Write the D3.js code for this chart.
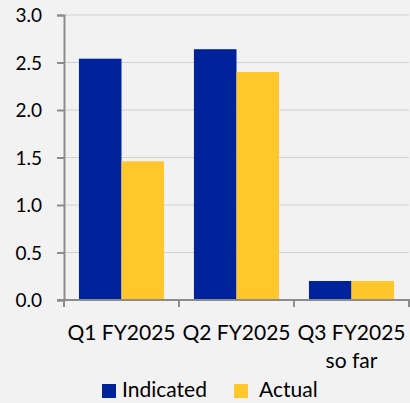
<!DOCTYPE html>
<html>
<head>
<meta charset="utf-8">
<script src="https://cdn.jsdelivr.net/npm/d3@7"></script>
<style>
  body { margin: 0; background: #f2f2f2; }
  svg { display: block; font-family: Lato, "Open Sans", sans-serif; }
</style>
</head>
<body>
<div id="chart"></div>
<script>
// values
const categories = ["Q1 FY2025", "Q2 FY2025", "Q3 FY2025\nso far"];
const seriesNames = ["Indicated", "Actual"];
const indicated = [2.54, 2.64, 0.2];
const actual = [1.46, 2.4, 0.2];
const yTicks = [0, 0.5, 1.0, 1.5, 2.0, 2.5, 3.0];

const colors = { Indicated: "#00239c", Actual: "#ffc72c" };
const fontSize = 21;

const width = 410, height = 403;
const margin = { top: 15, right: 1, bottom: 103, left: 64 };

const svg = d3.select('#chart')
    .append('svg')
    .attr('width', width)
    .attr('height', height)
;

svg.append('rect')
    .attr('width', width)
    .attr('height', height)
    .attr('fill', '#f2f2f2')
;

const x = d3.scaleBand()
    .domain(categories)
    .range([margin.left, width - margin.right])
    .paddingInner(0.26)
    .paddingOuter(0.13)
;

const x1 = d3.scaleBand()
    .domain(seriesNames)
    .range([0, x.bandwidth()])
;

const y = d3.scaleLinear()
    .domain([0, 3])
    .range([height - margin.bottom, margin.top])
;

// gridlines
svg.append('g')
    .selectAll('line')
    .data(yTicks.filter(d => d > 0))
    .join('line')
    .attr('x1', margin.left)
    .attr('x2', width - margin.right)
    .attr('y1', d => y(d))
    .attr('y2', d => y(d))
    .attr('stroke', '#d0d0d0')
    .attr('stroke-width', 1)
;

// bars
const rows = categories.map((c, i) => ({ cat: c, values: [indicated[i], actual[i]] }));

svg.append('g')
    .selectAll('g')
    .data(rows)
    .join('g')
    .attr('transform', d => `translate(${x(d.cat)},0)`)
    .selectAll('rect')
    .data(d => d.values.map((v, j) => ({ name: seriesNames[j], value: v })))
    .join('rect')
    .attr('x', d => x1(d.name))
    .attr('width', x1.bandwidth())
    .attr('y', d => y(d.value))
    .attr('height', d => y(0) - y(d.value))
    .attr('fill', d => colors[d.name])
;

// y axis
const yAxis = svg.append('g')
    .attr('transform', `translate(${margin.left},0)`)
    .call(d3.axisLeft(y).tickValues(yTicks).tickFormat(d3.format('.1f')).tickSizeOuter(0).tickSize(7).tickPadding(15))
;
yAxis.select('.domain').attr('stroke', '#8c8c8c').attr('stroke-width', 2);
yAxis.selectAll('.tick line').attr('stroke', '#8c8c8c').attr('stroke-width', 2);
yAxis.selectAll('text')
    .attr('font-size', 19)
    .attr('fill', '#000')
    .attr('font-family', 'Lato, "Open Sans", sans-serif')
    .attr('dy', '0.36em')
;

// x axis with category boundary ticks
const xAxisG = svg.append('g');
xAxisG.append('line')
    .attr('x1', margin.left - 7)
    .attr('x2', width)
    .attr('y1', y(0))
    .attr('y2', y(0))
    .attr('stroke', '#8c8c8c')
    .attr('stroke-width', 2)
;
const bounds = categories.map(c => x(c) - x.step() * x.paddingInner() / 2);
bounds.push(width - margin.right);
xAxisG.selectAll('.bound')
    .data(bounds)
    .join('line')
    .attr('class', 'bound')
    .attr('x1', d => d)
    .attr('x2', d => d)
    .attr('y1', y(0))
    .attr('y2', y(0) + 7)
    .attr('stroke', '#8c8c8c')
    .attr('stroke-width', 2)
;

const catLabels = xAxisG.selectAll('.cat')
    .data(categories)
    .join('text')
    .attr('class', 'cat')
    .attr('text-anchor', 'middle')
    .attr('font-size', fontSize)
    .attr('fill', '#000')
;
catLabels.each(function(d) {
    const lines = d.split('\n');
    const cx = x(d) + x.bandwidth() / 2;
    d3.select(this).selectAll('tspan')
        .data(lines)
        .join('tspan')
        .attr('x', cx)
        .attr('y', (l, i) => y(0) + 40 + i * 28)
        .text(l => l);
});

// legend
const legend = svg.append('g');
const legendItems = [
    { name: "Indicated", sx: 102, tx: 122 },
    { name: "Actual", sx: 234, tx: 259 }
];
legend.selectAll('rect')
    .data(legendItems)
    .join('rect')
    .attr('x', d => d.sx)
    .attr('y', 384)
    .attr('width', 14)
    .attr('height', 14)
    .attr('fill', d => colors[d.name])
;
legend.selectAll('text')
    .data(legendItems)
    .join('text')
    .attr('x', d => d.tx)
    .attr('y', 397)
    .attr('font-size', fontSize)
    .attr('fill', '#000')
    .text(d => d.name)
;
</script>
</body>
</html>
